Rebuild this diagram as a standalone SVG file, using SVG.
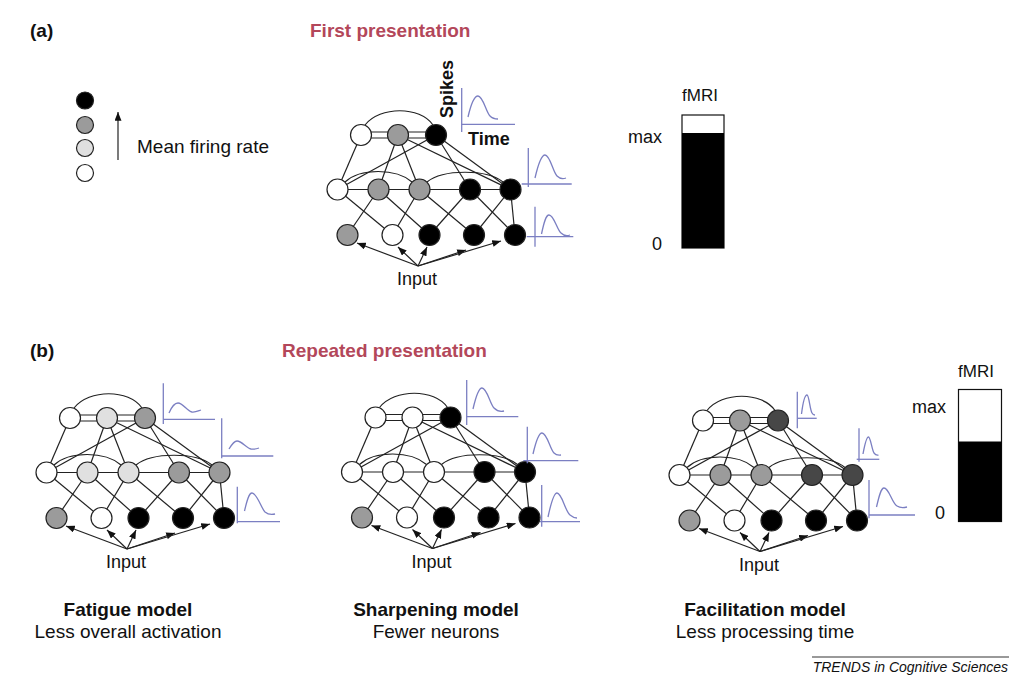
<svg xmlns="http://www.w3.org/2000/svg" width="1024" height="684" viewBox="0 0 1024 684">
<style>
text{font-family:"Liberation Sans",Arial,sans-serif;fill:#111}
.b{font-weight:bold}
.title{font-weight:bold;fill:#b3475a;font-size:19px}
.lab{font-size:19px}
.inp{font-size:18px}
.edge{stroke:#222;stroke-width:1.2;fill:none}
.arr{stroke:#222;stroke-width:1.2;fill:none;marker-end:url(#ah)}
circle{stroke:#222;stroke-width:1.2}
.w{fill:#fff}.g{fill:#9b9b9b}.l{fill:#e0e0e0}.d{fill:#474747}.k{fill:#000}
.sp{stroke:#7b7fc2;stroke-width:1.3;fill:none}
</style>
<defs>
<marker id="ah" viewBox="0 0 10 8" refX="10" refY="4" markerWidth="9" markerHeight="7" markerUnits="userSpaceOnUse" orient="auto"><path d="M0,0 L10,4 L0,8 z" fill="#111" stroke="none"/></marker>
<g id="edges">
<line x1="361" y1="132" x2="436" y2="132"/><line x1="361" y1="138" x2="436" y2="138"/>
<path d="M365,125 C380,106 420,106 433,125"/>
<line x1="361" y1="135" x2="337.5" y2="189.5"/>
<line x1="398" y1="135" x2="378.5" y2="189.5"/>
<line x1="398" y1="135" x2="419.5" y2="189.5"/>
<line x1="398" y1="135" x2="510.5" y2="189.5"/>
<line x1="436" y1="135" x2="337.5" y2="189.5"/>
<line x1="436" y1="135" x2="470" y2="189.5"/>
<line x1="436" y1="135" x2="510.5" y2="189.5"/>
<line x1="337.5" y1="189.5" x2="510.5" y2="189.5"/>
<path d="M345,182 C360,168 396,168 412,182"/>
<path d="M427,182 C443,169 487,169 503,182"/>
<line x1="337.5" y1="189.5" x2="392.5" y2="235"/>
<line x1="378.5" y1="189.5" x2="347.5" y2="235"/>
<line x1="378.5" y1="189.5" x2="429.5" y2="235"/>
<line x1="419.5" y1="189.5" x2="392.5" y2="235"/>
<line x1="419.5" y1="189.5" x2="474" y2="235"/>
<line x1="470" y1="189.5" x2="429.5" y2="235"/>
<line x1="470" y1="189.5" x2="515" y2="235"/>
<line x1="510.5" y1="189.5" x2="474" y2="235"/>
<line x1="510.5" y1="189.5" x2="515" y2="235"/>
</g>
<g id="arrows">
<line x1="418" y1="266" x2="357" y2="243"/>
<line x1="418" y1="266" x2="398" y2="247"/>
<line x1="418" y1="266" x2="427" y2="247"/>
<line x1="418" y1="266" x2="466" y2="250"/>
<line x1="418" y1="266" x2="501" y2="241"/>
</g>
</defs>

<!-- headings -->
<text x="30" y="37" class="b lab">(a)</text>
<text x="310" y="37" class="title">First presentation</text>
<text x="30" y="357" class="b lab">(b)</text>
<text x="282" y="357" class="title">Repeated presentation</text>

<!-- legend -->
<g id="legend">
<circle cx="85" cy="100.5" r="8.5" class="k"/>
<circle cx="85" cy="125" r="8.5" class="g"/>
<circle cx="85" cy="148" r="8.5" class="l"/>
<circle cx="85" cy="173" r="8.5" class="w"/>
<line x1="118" y1="160" x2="118" y2="112" class="arr"/>
<text x="137" y="153" class="lab">Mean firing rate</text>
</g>

<!-- connectors -->
<g id="connectors">
<g class="edge"><use href="#edges"/></g>
<g class="edge" transform="translate(-291,283)"><use href="#edges"/></g>
<g class="edge" transform="translate(14.5,282.5)"><use href="#edges"/></g>
<g class="edge" transform="translate(342,285.5)"><use href="#edges"/></g>
<g class="arr"><use href="#arrows"/></g>
<g class="arr" transform="translate(-291,283)"><use href="#arrows"/></g>
<g class="arr" transform="translate(14.5,282.5)"><use href="#arrows"/></g>
<g class="arr" transform="translate(342,285.5)"><use href="#arrows"/></g>
</g>

<!-- network a -->
<g id="net-a">
<g id="a-t1"><circle cx="361" cy="135" r="10.5" class="w"/></g>
<g id="a-t2"><circle cx="398" cy="135" r="10.5" class="g"/></g>
<g id="a-t3"><circle cx="436" cy="135" r="10.5" class="k"/></g>
<g id="a-m1"><circle cx="337.5" cy="189.5" r="10.5" class="w"/></g>
<g id="a-m2"><circle cx="378.5" cy="189.5" r="10.5" class="g"/></g>
<g id="a-m3"><circle cx="419.5" cy="189.5" r="10.5" class="g"/></g>
<g id="a-m4"><circle cx="470" cy="189.5" r="10.5" class="k"/></g>
<g id="a-m5"><circle cx="510.5" cy="189.5" r="10.5" class="k"/></g>
<g id="a-b1"><circle cx="347.5" cy="235" r="10.5" class="g"/></g>
<g id="a-b2"><circle cx="392.5" cy="235" r="10.5" class="w"/></g>
<g id="a-b3"><circle cx="429.5" cy="235" r="10.5" class="k"/></g>
<g id="a-b4"><circle cx="474" cy="235" r="10.5" class="k"/></g>
<g id="a-b5"><circle cx="515" cy="235" r="10.5" class="k"/></g>
<g id="a-input"><text x="417" y="285" class="inp" text-anchor="middle">Input</text></g>
</g>

<!-- fatigue -->
<g id="net-fatigue" transform="translate(-291,283)">
<g id="f-t1"><circle cx="361" cy="135" r="10.5" class="w"/></g>
<g id="f-t2"><circle cx="398" cy="135" r="10.5" class="l"/></g>
<g id="f-t3"><circle cx="436" cy="135" r="10.5" class="g"/></g>
<g id="f-m1"><circle cx="337.5" cy="189.5" r="10.5" class="w"/></g>
<g id="f-m2"><circle cx="378.5" cy="189.5" r="10.5" class="l"/></g>
<g id="f-m3"><circle cx="419.5" cy="189.5" r="10.5" class="l"/></g>
<g id="f-m4"><circle cx="470" cy="189.5" r="10.5" class="g"/></g>
<g id="f-m5"><circle cx="510.5" cy="189.5" r="10.5" class="g"/></g>
<g id="f-b1"><circle cx="347.5" cy="235" r="10.5" class="g"/></g>
<g id="f-b2"><circle cx="392.5" cy="235" r="10.5" class="w"/></g>
<g id="f-b3"><circle cx="429.5" cy="235" r="10.5" class="k"/></g>
<g id="f-b4"><circle cx="474" cy="235" r="10.5" class="k"/></g>
<g id="f-b5"><circle cx="515" cy="235" r="10.5" class="k"/></g>
<g id="f-input"><text x="417" y="285" class="inp" text-anchor="middle">Input</text></g>
</g>

<!-- sharpening -->
<g id="net-sharpening" transform="translate(14.5,282.5)">
<g id="s-t1"><circle cx="361" cy="135" r="10.5" class="w"/></g>
<g id="s-t2"><circle cx="398" cy="135" r="10.5" class="w"/></g>
<g id="s-t3"><circle cx="436" cy="135" r="10.5" class="k"/></g>
<g id="s-m1"><circle cx="337.5" cy="189.5" r="10.5" class="w"/></g>
<g id="s-m2"><circle cx="378.5" cy="189.5" r="10.5" class="w"/></g>
<g id="s-m3"><circle cx="419.5" cy="189.5" r="10.5" class="w"/></g>
<g id="s-m4"><circle cx="470" cy="189.5" r="10.5" class="k"/></g>
<g id="s-m5"><circle cx="510.5" cy="189.5" r="10.5" class="k"/></g>
<g id="s-b1"><circle cx="347.5" cy="235" r="10.5" class="g"/></g>
<g id="s-b2"><circle cx="392.5" cy="235" r="10.5" class="w"/></g>
<g id="s-b3"><circle cx="429.5" cy="235" r="10.5" class="k"/></g>
<g id="s-b4"><circle cx="474" cy="235" r="10.5" class="k"/></g>
<g id="s-b5"><circle cx="515" cy="235" r="10.5" class="k"/></g>
<g id="s-input"><text x="417" y="285" class="inp" text-anchor="middle">Input</text></g>
</g>

<!-- facilitation -->
<g id="net-facilitation" transform="translate(342,285.5)">
<g id="c-t1"><circle cx="361" cy="135" r="10.5" class="w"/></g>
<g id="c-t2"><circle cx="398" cy="135" r="10.5" class="g"/></g>
<g id="c-t3"><circle cx="436" cy="135" r="10.5" class="d"/></g>
<g id="c-m1"><circle cx="337.5" cy="189.5" r="10.5" class="w"/></g>
<g id="c-m2"><circle cx="378.5" cy="189.5" r="10.5" class="g"/></g>
<g id="c-m3"><circle cx="419.5" cy="189.5" r="10.5" class="g"/></g>
<g id="c-m4"><circle cx="470" cy="189.5" r="10.5" class="d"/></g>
<g id="c-m5"><circle cx="510.5" cy="189.5" r="10.5" class="d"/></g>
<g id="c-b1"><circle cx="347.5" cy="235" r="10.5" class="g"/></g>
<g id="c-b2"><circle cx="392.5" cy="235" r="10.5" class="w"/></g>
<g id="c-b3"><circle cx="429.5" cy="235" r="10.5" class="k"/></g>
<g id="c-b4"><circle cx="474" cy="235" r="10.5" class="k"/></g>
<g id="c-b5"><circle cx="515" cy="235" r="10.5" class="k"/></g>
<g id="c-input"><text x="417" y="285" class="inp" text-anchor="middle">Input</text></g>
</g>

<!-- spike plots -->
<g id="spikes" class="sp">
<line x1="461.7" y1="88" x2="461.7" y2="132"/><line x1="461.7" y1="124.3" x2="515" y2="124.3"/>
<path d="M468,117 C471,104 474,96 478,96 C483,96 486,112 490,116 C493,119 496,119 498,119"/>
<line x1="528.3" y1="148" x2="528.3" y2="187"/><line x1="521.7" y1="184" x2="571.7" y2="184"/>
<path d="M535,178 C538,165 541,155 545,155 C550,155 553,172 557,176 C560,179 563,179 566,178"/>
<line x1="535" y1="206.7" x2="535" y2="246.7"/><line x1="526.7" y1="236.7" x2="573.3" y2="236.7"/>
<path d="M541.5,234 C544,222 546,215 549,215 C554,215 557,230 561,233 C564,236 567,236 570,235"/>

<line x1="163.3" y1="383.3" x2="163.3" y2="424"/><line x1="163.3" y1="419.3" x2="215" y2="419.3"/>
<path d="M169,413 C172,406 175,403 178,403 C183,403 187,411 192,412 C195,412.5 198,411 201,410"/>
<line x1="221.7" y1="418.3" x2="221.7" y2="458.3"/><line x1="221.7" y1="456" x2="273.3" y2="456"/>
<path d="M229,449 C232,444 234,441 237,441 C242,441 246,448 251,449 C254,449.5 256,449 259,448"/>
<line x1="237.3" y1="486.7" x2="237.3" y2="523.3"/><line x1="237.3" y1="521.7" x2="280" y2="521.7"/>
<path d="M244.5,511 C247,500 249,493 252,493 C257,493 261,508 265,512 C268,514.5 271,515 275,514"/>

<line x1="466.7" y1="380" x2="466.7" y2="425"/><line x1="466.7" y1="416.7" x2="518.3" y2="416.7"/>
<path d="M473,409 C476,396 479,388 482,388 C487,388 490,404 494,408 C497,411 500,412 504,411"/>
<line x1="527.3" y1="426.7" x2="527.3" y2="463.3"/><line x1="523.3" y1="460.7" x2="578.3" y2="460.7"/>
<path d="M533,454 C536,441 539,433 542,433 C547,433 550,449 554,453 C556,455 558,455.5 561,455"/>
<line x1="541.7" y1="485" x2="541.7" y2="526.7"/><line x1="540" y1="521.7" x2="580" y2="521.7"/>
<path d="M548,517 C551,503 554,493 557,493 C562,493 565,511 570,515 C573,517.5 575,518 577,518"/>

<line x1="797.3" y1="391.7" x2="797.3" y2="428.3"/><line x1="797.3" y1="418.3" x2="816.7" y2="418.3"/>
<path d="M801.5,414 C803,402 805,395 807,395 C809,395 810,410 812,413 C813,415 814,415 815,415"/>
<line x1="859" y1="428.3" x2="859" y2="461.7"/><line x1="856.7" y1="459.3" x2="879.3" y2="459.3"/>
<path d="M863,454 C865,443 866.5,437 868.5,437 C870.5,437 872,450 874,453 C875.5,455 877,455.5 878.5,455"/>
<line x1="869" y1="480" x2="869" y2="518.3"/><line x1="869" y1="515" x2="915" y2="515"/>
<path d="M876.5,507 C879,496 881,488 884,488 C889,488 892,503 897,506 C900,508 903,508 907,507"/>
</g>
<text transform="translate(453,118) rotate(-90)" class="b" font-size="18">Spikes</text>
<text x="468" y="145" class="b" font-size="18">Time</text>

<!-- fMRI bars -->
<g id="fmri-a">
<text x="682" y="101" font-size="17">fMRI</text>
<rect x="682" y="115" width="42" height="133" fill="#fff" stroke="#111" stroke-width="1.2"/>
<rect x="682" y="133" width="42" height="115" fill="#000"/>
<text x="662" y="143" font-size="18" text-anchor="end">max</text>
<text x="662" y="250" font-size="18" text-anchor="end">0</text>
</g>
<g id="fmri-b">
<text x="958" y="377" font-size="17">fMRI</text>
<rect x="958.5" y="389.5" width="43" height="132" fill="#fff" stroke="#111" stroke-width="1.2"/>
<rect x="958.5" y="441.5" width="43" height="80" fill="#000"/>
<text x="946" y="413" font-size="18" text-anchor="end">max</text>
<text x="945" y="519" font-size="18" text-anchor="end">0</text>
</g>

<!-- captions -->
<g text-anchor="middle">
<text x="128" y="616" class="b lab">Fatigue model</text>
<text x="128" y="638" class="lab">Less overall activation</text>
<text x="436" y="616" class="b lab">Sharpening model</text>
<text x="436" y="638" class="lab">Fewer neurons</text>
<text x="765" y="616" class="b lab">Facilitation model</text>
<text x="765" y="638" class="lab">Less processing time</text>
</g>
<line x1="812" y1="657" x2="1009" y2="657" stroke="#777" stroke-width="1.5"/>
<text x="1008" y="672" font-size="14" font-style="italic" text-anchor="end">TRENDS in Cognitive Sciences</text>
</svg>
